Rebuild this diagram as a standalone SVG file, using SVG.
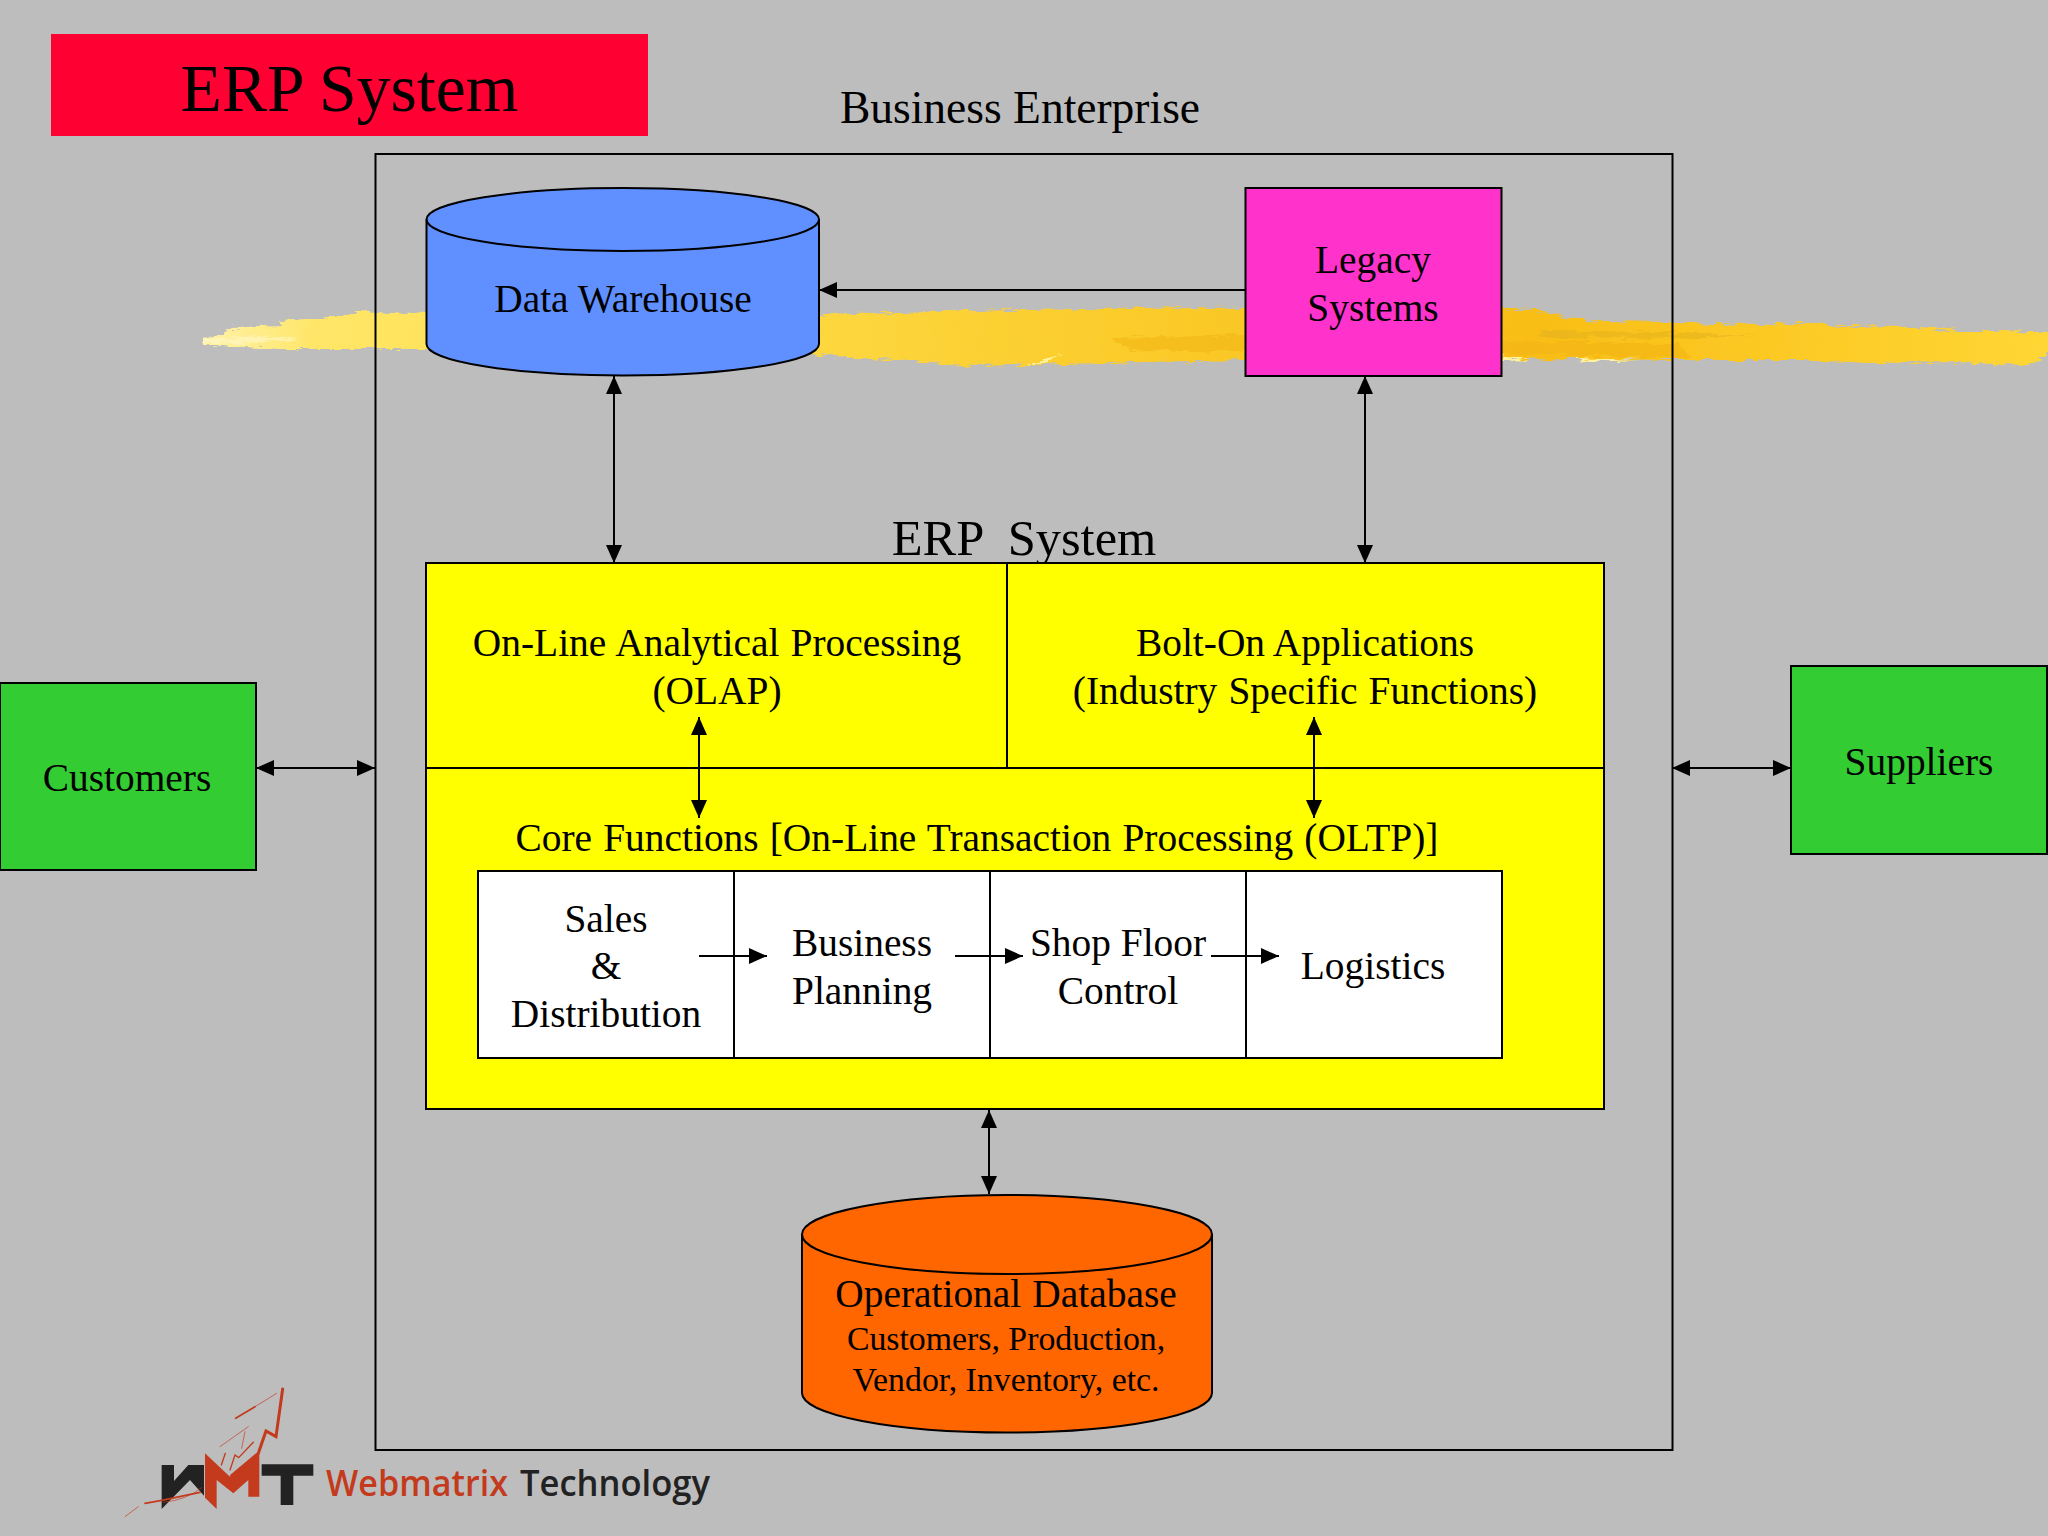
<svg xmlns="http://www.w3.org/2000/svg" width="2048" height="1536" viewBox="0 0 2048 1536">
<style>
text{font-family:"Liberation Serif","Times New Roman",serif;fill:#000;text-anchor:middle;white-space:pre}
.s{stroke:#000;stroke-width:2;fill:none}
.b{stroke:#000;stroke-width:2}
.t40{font-size:39.4px}
.ws{word-spacing:1.3px}
.logo{font-family:"Open Sans","Noto Sans",sans-serif;font-size:36px;font-weight:600;text-anchor:start}
</style>
<defs>
<linearGradient id="brush" gradientUnits="userSpaceOnUse" x1="204" y1="0" x2="2048" y2="0">
<stop offset="0" stop-color="#fff2a8"/><stop offset="0.06" stop-color="#ffe668"/><stop offset="0.2" stop-color="#ffdf50"/><stop offset="0.45" stop-color="#fbcf30"/><stop offset="0.72" stop-color="#f9be16"/><stop offset="1" stop-color="#ffd634"/>
</linearGradient>
<filter id="rough" filterUnits="userSpaceOnUse" x="190" y="295" width="1870" height="85">
<feTurbulence type="fractalNoise" baseFrequency="0.07 0.3" numOctaves="3" seed="4" result="n"/>
<feDisplacementMap in="SourceGraphic" in2="n" scale="9" xChannelSelector="R" yChannelSelector="G"/>
</filter>
<marker id="head" markerUnits="userSpaceOnUse" viewBox="0 0 18 16" refX="18" refY="8" markerWidth="18" markerHeight="16" orient="auto-start-reverse"><path d="M0 0L18 8L0 16z" fill="#000"/></marker>
</defs>
<rect id="background" width="2048" height="1536" fill="#bebdbe"/>
<g id="brush-stroke" filter="url(#rough)">
<path fill="url(#brush)" d="M203 338L220 335L229 328L280 326L280 321L330 317L345 314L367 312L387 314L423 312L520 318L640 316L820 316L849 314L900 313L954 311L1024 310L1100 309L1180 307L1246 308L1501 308L1530 310L1552 314L1566 318L1600 321L1671 322L1710 324L1760 325L1800 323L1840 326L1906 327L1960 331L2000 331L2052 332L2052 350L2040 360L2023 366L1960 362L1873 363L1800 360L1677 360L1570 359L1501 360L1246 360L1140 362L1024 365L960 366L914 361L860 358L810 354L640 350L425 349L322 349L280 349L243 347L203 345Z"/>
<path fill="#fff6c0" opacity=".7" d="M203 339L260 336L300 339L240 343L203 344Z"/>
<path fill="#e0b020" opacity=".5" d="M1540 330L1700 333L1760 336L1640 338L1540 337Z"/>
<path fill="#f0b010" opacity=".45" d="M1110 338L1246 335L1246 352L1130 350ZM1501 340L1680 344L1690 358L1501 354Z"/>
<path fill="#fff3a0" d="M1024 365L1060 355L1050 362ZM1501 356L1530 360L1501 361ZM1570 358L1640 360L1590 362Z"/>
</g>
<g id="title"><rect x="51" y="34" width="597" height="102" fill="#ff0033"/><text x="349.500" y="111" font-size="67.700">ERP System</text></g>
<text id="enterprise-label" x="1020" y="123" font-size="45.5">Business Enterprise</text>
<rect id="business-enterprise" x="375.500" y="154" width="1297" height="1296" class="b" fill="none"/>
<g id="data-warehouse">
<path class="b" fill="#6090ff" d="M426.500 219.500A196.250 31.500 0 0 1 819 219.500V344A196.250 31.500 0 0 1 426.500 344Z"/>
<path class="b" fill="none" d="M426.500 219.500A196.250 31.500 0 0 0 819 219.500"/>
<text x="623" y="312" class="t40">Data Warehouse</text>
</g>
<g id="legacy-systems"><rect x="1245.500" y="188" width="256" height="188" class="b" fill="#ff33cc"/><text x="1373" y="273" class="t40">Legacy</text><text x="1373" y="321" class="t40">Systems</text></g>
<text id="erp-label" x="1024" y="555" font-size="50.500">ERP  System</text>
<g id="erp-system">
<rect x="426" y="563" width="1178" height="546" class="b" fill="#ffff00"/>
<path class="b" fill="none" d="M426 768H1604M1007 563V768"/>
</g>
<g id="olap"><text x="717" y="656" class="t40 ws">On-Line Analytical Processing</text><text x="717" y="704" class="t40">(OLAP)</text></g>
<g id="bolt-on"><text x="1305" y="656" class="t40">Bolt-On Applications</text><text x="1305" y="704" class="t40 ws">(Industry Specific Functions)</text></g>
<text id="core-label" x="977" y="851" class="t40 ws">Core Functions [On-Line Transaction Processing (OLTP)]</text>
<g id="sales"><rect x="478" y="871" width="256" height="187" class="b" fill="#fff"/><text x="606" y="932" class="t40">Sales</text><text x="606" y="979" class="t40">&amp;</text><text x="606" y="1027" class="t40">Distribution</text></g>
<g id="business-planning"><rect x="734" y="871" width="256" height="187" class="b" fill="#fff"/><text x="862" y="956" class="t40">Business</text><text x="862" y="1004" class="t40">Planning</text></g>
<g id="shop-floor"><rect x="990" y="871" width="256" height="187" class="b" fill="#fff"/><text x="1118" y="956" class="t40">Shop Floor</text><text x="1118" y="1004" class="t40">Control</text></g>
<g id="logistics"><rect x="1246" y="871" width="256" height="187" class="b" fill="#fff"/><text x="1373" y="979" class="t40">Logistics</text></g>
<g id="customers"><rect x="0" y="683" width="256" height="187" class="b" fill="#33cc33"/><text x="127" y="791" class="t40">Customers</text></g>
<g id="suppliers"><rect x="1791" y="666" width="256" height="188" class="b" fill="#33cc33"/><text x="1919" y="775" class="t40">Suppliers</text></g>
<g id="operational-database">
<path class="b" fill="#ff6600" d="M802 1234.500A205 39.500 0 0 1 1212 1234.500V1393A205 39.500 0 0 1 802 1393Z"/>
<path class="b" fill="none" d="M802 1234.500A205 39.500 0 0 0 1212 1234.500"/>
<text x="1006" y="1307" class="t40 ws">Operational Database</text>
<text x="1006" y="1350" font-size="33.800">Customers, Production,</text>
<text x="1006" y="1391" font-size="33.800">Vendor, Inventory, etc.</text>
</g>
<g id="connectors">
<path class="s" marker-end="url(#head)" d="M1245 290H819"/>
<path class="s" marker-start="url(#head)" marker-end="url(#head)" d="M614 376V563"/>
<path class="s" marker-start="url(#head)" marker-end="url(#head)" d="M1365 376V563"/>
<path class="s" marker-start="url(#head)" marker-end="url(#head)" d="M699 717V818"/>
<path class="s" marker-start="url(#head)" marker-end="url(#head)" d="M1314 717V818"/>
<path class="s" marker-end="url(#head)" d="M699 956H767"/>
<path class="s" marker-end="url(#head)" d="M955 956H1023"/>
<path class="s" marker-end="url(#head)" d="M1211 956H1279"/>
<path class="s" marker-start="url(#head)" marker-end="url(#head)" d="M256 768H375"/>
<path class="s" marker-start="url(#head)" marker-end="url(#head)" d="M1672 768H1791"/>
<path class="s" marker-start="url(#head)" marker-end="url(#head)" d="M989 1110V1194"/>
</g>
<g id="logo">
<g transform="translate(120 1385) scale(.3333)">
<path fill="#c33a1c" d="M255 205L330 275L418 205V335H385V285L340 325L290 285V372L255 338Z"/>
<path fill="#222" d="M125 240H162V288L205 240H252V332L210 285L125 372ZM425 238H580V272H520V360H482V272H425Z"/>
<g fill="none" stroke="#c33a1c" stroke-linecap="round">
<path stroke-width="9" d="M335 272L415 205L438 138L468 155L488 12"/>
<path stroke-width="5" d="M347 100L405 65"/><path stroke-width="2" d="M405 65L470 25"/>
<path stroke-width="2" d="M300 185L385 125M365 190L375 140"/>
<path stroke-width="4" d="M304 240L316 205M330 255L345 210L356 218L400 172"/>
<path stroke-width="5" d="M75 355L125 346L240 322"/><path stroke-width="2" d="M15 395L55 365M130 352Q200 345 245 308"/>
</g>
</g>
<text class="logo" x="326" y="1496" style="fill:#c33a1c" textLength="182" lengthAdjust="spacingAndGlyphs">Webmatrix</text>
<text class="logo" x="520" y="1496" style="fill:#222" textLength="190" lengthAdjust="spacingAndGlyphs">Technology</text>
</g>
</svg>
